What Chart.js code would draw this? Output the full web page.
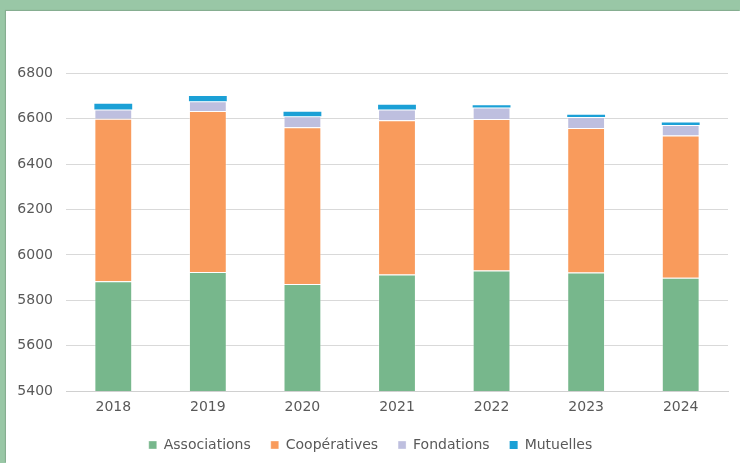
<!DOCTYPE html>
<html>
<head>
<meta charset="utf-8">
<script src="https://cdn.jsdelivr.net/npm/chart.js@4"></script>
<style>
  html, body { margin: 0; padding: 0; }
  body { width: 740px; height: 463px; background: #99c7a6; position: relative; overflow: hidden; }
  #box { position: absolute; left: 6px; top: 11px; width: 734px; height: 452px; background: #fff; box-shadow: -1px -1px 1px rgba(0,0,0,0.12); }
</style>
</head>
<body>
<div id="box"><canvas id="chart" width="734" height="452"></canvas></div>
<script>
const years = ['2018', '2019', '2020', '2021', '2022', '2023', '2024']
const associations = [5884, 5925, 5872, 5914, 5931, 5922, 5899]
const cooperatives = [716, 709, 691, 679, 668, 637, 627]
const fondations = [41, 43, 48, 48, 51, 49, 46]
const mutuelles = [25, 23, 20, 21, 9, 10, 11]

const textColor = '#595959'
const font = { family: 'DejaVu Sans', size: 14 }

function ds (label, data, color, bw) {
  return {
    label: label,
    data: data,
    backgroundColor: color,
    borderColor: 'rgba(255,255,255,0.35)',
    borderWidth: bw,
    barPercentage: 0.4,
    categoryPercentage: 1
  }
}

new Chart(document.getElementById('chart').getContext('2d'), {
  type: 'bar',
  data: {
    labels: years,
    datasets: [
      ds('Associations', associations, '#77b78c', 1),
      ds('Coopératives', cooperatives, '#f99b5c', 1),
      ds('Fondations', fondations, '#bebfdf', 1),
      ds('Mutuelles', mutuelles, '#1ba0d6', 0)
    ]
  },
  options: {
    responsive: false,
    animation: false,
    layout: { padding: { top: 17, right: 12, left: 7, bottom: 1 } },
    scales: {
      x: {
        stacked: true,
        grid: { display: false },
        border: { color: '#d0d0d0' },
        ticks: { color: textColor, font: font, padding: 0 },
        afterFit: (s) => { s.height = 27 }
      },
      y: {
        stacked: true,
        min: 5400,
        max: 7000,
        border: { display: false },
        grid: {
          color: (ctx) => (ctx.tick && ctx.tick.value === 7000) ? 'rgba(0,0,0,0)' : '#d9d9d9',
          drawTicks: false
        },
        ticks: {
          stepSize: 200,
          color: textColor,
          font: font,
          padding: 13,
          callback: (v) => v === 7000 ? '' : v
        },
        afterFit: (s) => {
          s.width = 53
          s.paddingTop = 0
        }
      }
    },
    plugins: {
      tooltip: { enabled: false },
      legend: {
        position: 'bottom',
        labels: {
          color: textColor,
          font: font,
          boxWidth: 8,
          boxHeight: 8,
          padding: 20
        }
      }
    }
  }
})
</script>
</body>
</html>
